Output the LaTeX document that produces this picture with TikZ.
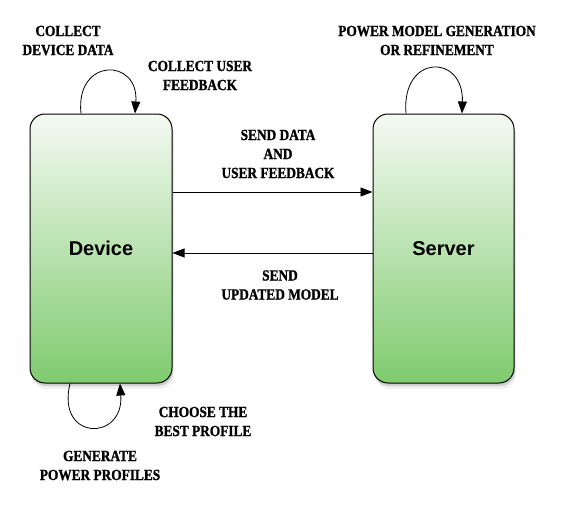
\documentclass[tikz,border=0pt]{standalone}
\usepackage{fontspec}
\setmainfont{Liberation Serif}
\newfontfamily\boxfont{Liberation Sans}
\newfontfamily\tagfont{Liberation Serif}[BoldFeatures = {FakeBold = 1.2, FakeStretch = 0.86}]
\usepackage{xcolor}
\usepackage{tikz}
\usetikzlibrary{arrows.meta, positioning, shadows}
\definecolor{boxtop}{HTML}{F5FAF3}
\definecolor{boxbottom}{HTML}{7FCB6E}
\tikzset{
  unit/.style = {draw, line width = 1pt, rounded corners = 15pt, minimum width = 142pt, minimum height = 269pt,
    top color = boxtop, bottom color = boxbottom, font = \boxfont\bfseries\fontsize{20}{24}\selectfont,
    drop shadow = {shadow xshift = 1pt, shadow yshift = -3pt, opacity = .3},
    drop shadow = {shadow xshift = 2pt, shadow yshift = -6pt, opacity = .12}},
  tag/.style = {align = center, font = \tagfont\bfseries\fontsize{15.5}{19}\selectfont},
  flow/.style = {line width = .8pt, -{Triangle[length = 12pt, width = 9pt]}}
}

\begin{document}
\begin{tikzpicture}[x = 1pt, y = -1pt]
\useasboundingbox (0,0) rectangle (570,504);
\node[unit] (device) at (101,248.5) {Device};
\node[unit, minimum width = 141pt] (server) at (443.5,248.5) {Server};

\draw[flow] ([yshift = 56.5pt]device.east) -- ([yshift = 56.5pt]server.west);
\draw[flow] ([yshift = -4.5pt]server.west) -- ([yshift = -4.5pt]device.east);

% loops
\draw[flow] ([xshift = -20pt]device.north) .. controls +(-6,-56) and +(4,-56) .. ([xshift = 34pt]device.north);
\draw[flow] ([xshift = -37.5pt]server.north) .. controls +(-5,-60) and +(2,-60) .. ([xshift = 18.5pt]server.north);
\draw[flow] ([xshift = -31pt]device.south) .. controls +(-14,58) and +(4,58) .. ([xshift = 19pt]device.south);

\node[tag] (collectdev) at (68,40.5) {COLLECT\\DEVICE DATA};
\node[tag] (collectusr) at (200,75.5) {COLLECT USER\\FEEDBACK};
\node[tag] (senddata) at (278,154) {SEND DATA\\AND\\USER FEEDBACK};
\node[tag] (sendmodel) at (280,285) {SEND\\UPDATED MODEL};
\node[tag] (powermodel) at (437,40.5) {POWER MODEL GENERATION\\OR REFINEMENT};
\node[tag] (chooseprof) at (203,421.5) {CHOOSE THE\\BEST PROFILE};
\node[tag] (genprof) at (100,465.5) {GENERATE\\POWER PROFILES};
\end{tikzpicture}
\end{document}
